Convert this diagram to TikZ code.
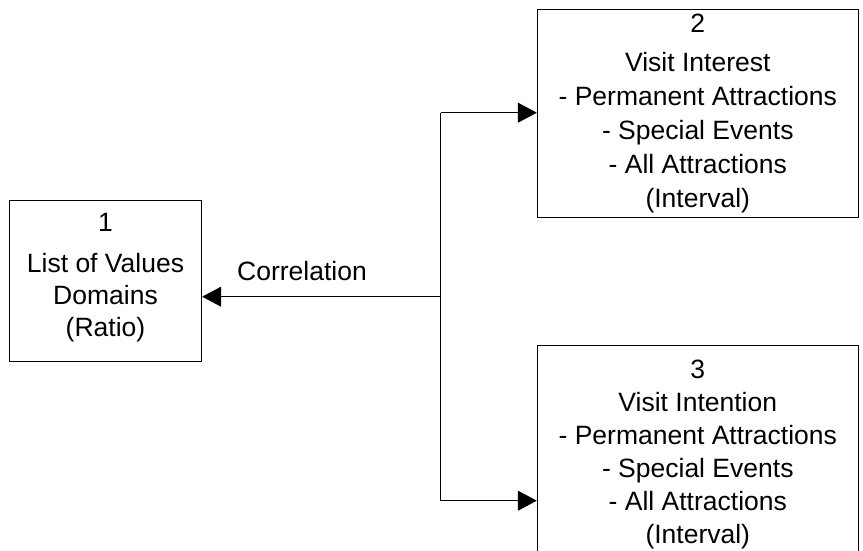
\documentclass[tikz,border=0pt]{standalone}
\usepackage{fontspec}
\setmainfont{Liberation Sans}
\usetikzlibrary{arrows.meta}
\begin{document}
\begin{tikzpicture}[x=1pt,y=-1pt,
  box/.style={draw=black, line width=1pt, rectangle, inner sep=0pt, align=center},
  txt/.style={inner sep=0pt, align=center},
  arr/.style={draw=black, line width=1pt, -{Triangle[length=19pt,width=20pt]}},
  conn/.style={draw=black, line width=1pt}]
\useasboundingbox (0,0) rectangle (863,551);
\node[box, minimum width=192.4pt, minimum height=160.7pt] (b1) at (105.5,281.3) {};
\node[txt, font=\fontsize{26.5}{32}\selectfont] (t1) at (105.5,277.5)
  {1\\[9pt]List of Values\\Domains\\(Ratio)};
\node[box, minimum width=321pt, minimum height=208pt,
  font=\fontsize{26.5}{34}\selectfont] (b2) at (697.8,113.2)
  {2\\[5pt]Visit Interest\\- Permanent Attractions\\- Special Events\\- All Attractions\\(Interval)};
\node[box, minimum width=321pt, minimum height=219pt,
  font=\fontsize{26.5}{33}\selectfont] (b3) at (697.8,454.5)
  {3\\Visit Intention\\- Permanent Attractions\\- Special Events\\- All Attractions\\(Interval)};
\coordinate (top) at (440.5,112.7);
\coordinate (bot) at (440.5,500.7);
\coordinate (j) at (440.5,296.7);
\draw[conn] (top) -- (bot);
\draw[arr] (j) -- (j -| b1.east);
\draw[arr] (top) -- (top -| b2.west);
\draw[arr] (bot) -- (bot -| b3.west);
\node[font=\fontsize{26.5}{33}\selectfont, anchor=base, inner sep=0pt] (lab) at (302,280) {Correlation};
\end{tikzpicture}
\end{document}
